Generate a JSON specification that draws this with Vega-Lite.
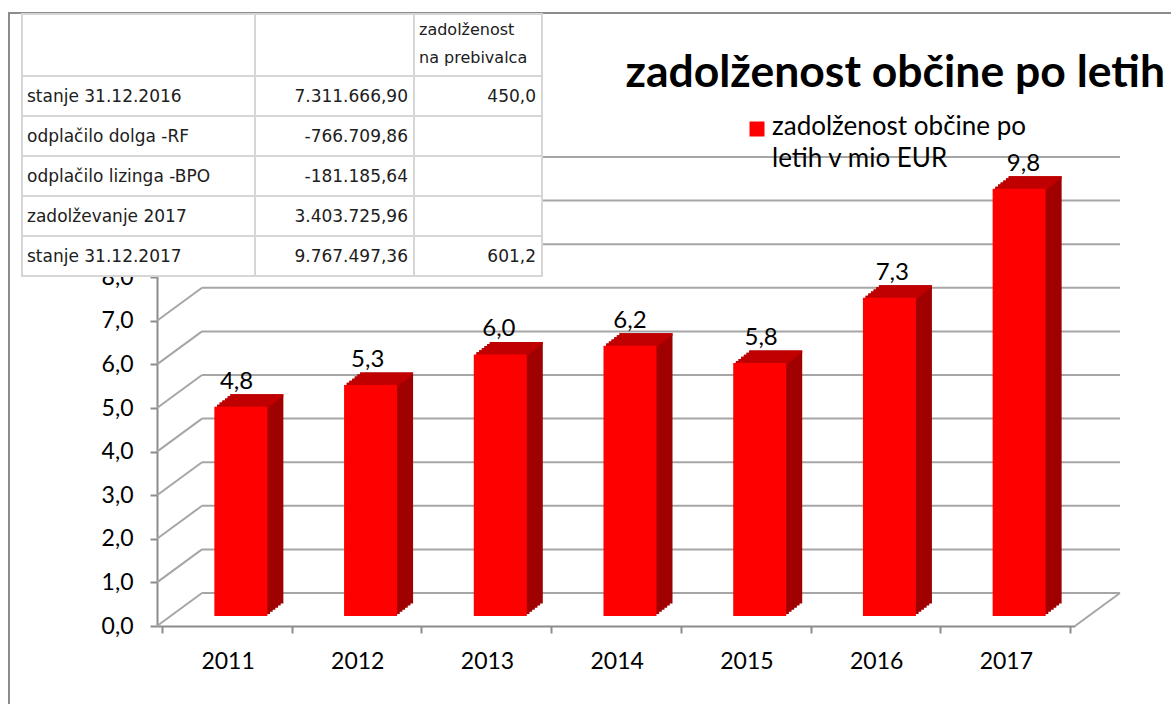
{
  "$schema": "https://vega.github.io/schema/vega-lite/v6.json",
  "width": 1164,
  "height": 693,
  "autosize": "none",
  "padding": {"left": 9, "top": 13, "right": 0, "bottom": 0},
  "background": "white",
  "config": {
    "view": {"stroke": "#8c8c8c", "strokeWidth": 2},
    "font": "Lato"
  },
  "title": {
    "text": "zadolženost občine po letih",
    "anchor": "end",
    "frame": "group",
    "offset": -75,
    "dx": -8,
    "dy": 43,
    "baseline": "alphabetic",
    "font": "Lato",
    "fontSize": 44.5,
    "fontWeight": "bold",
    "color": "#000000"
  },
  "datasets": {
    "bars": [
      {"year": 2011, "value": 4.8, "series": "zadolženost občine po letih v mio EUR"},
      {"year": 2012, "value": 5.3, "series": "zadolženost občine po letih v mio EUR"},
      {"year": 2013, "value": 6.0, "series": "zadolženost občine po letih v mio EUR"},
      {"year": 2014, "value": 6.2, "series": "zadolženost občine po letih v mio EUR"},
      {"year": 2015, "value": 5.8, "series": "zadolženost občine po letih v mio EUR"},
      {"year": 2016, "value": 7.3, "series": "zadolženost občine po letih v mio EUR"},
      {"year": 2017, "value": 9.8, "series": "zadolženost občine po letih v mio EUR"}
    ],
    "grid": [
      {"v": 0}, {"v": 1}, {"v": 2}, {"v": 3}, {"v": 4}, {"v": 5},
      {"v": 6}, {"v": 7}, {"v": 8}, {"v": 9}, {"v": 10}
    ],
    "table": [
      {"row": 0, "col": 0, "text": ""},
      {"row": 0, "col": 1, "text": ""},
      {"row": 0, "col": 2, "text": "zadolženost\nna prebivalca"},
      {"row": 1, "col": 0, "text": "stanje 31.12.2016"},
      {"row": 1, "col": 1, "text": "7.311.666,90"},
      {"row": 1, "col": 2, "text": "450,0"},
      {"row": 2, "col": 0, "text": "odplačilo dolga -RF"},
      {"row": 2, "col": 1, "text": "-766.709,86"},
      {"row": 2, "col": 2, "text": ""},
      {"row": 3, "col": 0, "text": "odplačilo lizinga -BPO"},
      {"row": 3, "col": 1, "text": "-181.185,64"},
      {"row": 3, "col": 2, "text": ""},
      {"row": 4, "col": 0, "text": "zadolževanje 2017"},
      {"row": 4, "col": 1, "text": "3.403.725,96"},
      {"row": 4, "col": 2, "text": ""},
      {"row": 5, "col": 0, "text": "stanje 31.12.2017"},
      {"row": 5, "col": 1, "text": "9.767.497,36"},
      {"row": 5, "col": 2, "text": "601,2"}
    ]
  },
  "resolve": {
    "scale": {"x": "independent", "y": "independent"},
    "axis": {"x": "independent", "y": "independent"}
  },
  "layer": [
    {
      "data": {"name": "grid"},
      "mark": {"type": "rule", "color": "#a6a6a6", "strokeWidth": 2, "xOffset": 45, "x2Offset": 45, "yOffset": -33},
      "encoding": {
        "x": {"datum": 2010.5, "type": "quantitative", "scale": {"domain": [2010.5, 2017.5], "range": [148, 1066], "nice": false, "zero": false}, "axis": null},
        "x2": {"datum": 2017.5},
        "y": {"field": "v", "type": "quantitative", "scale": {"domain": [0, 10], "range": [613, 177], "nice": false, "zero": false}, "axis": null}
      }
    },
    {
      "data": {"name": "grid"},
      "mark": {"type": "rule", "color": "#a6a6a6", "strokeWidth": 2, "x2Offset": 45, "y2Offset": -33},
      "encoding": {
        "x": {"datum": 2010.5, "type": "quantitative", "scale": {"domain": [2010.5, 2017.5], "range": [148, 1066], "nice": false, "zero": false}, "axis": null},
        "x2": {"datum": 2010.5},
        "y": {"field": "v", "type": "quantitative", "scale": {"domain": [0, 10], "range": [613, 177], "nice": false, "zero": false}, "axis": null},
        "y2": {"field": "v"}
      }
    },
    {
      "data": {"name": "grid"},
      "transform": [{"filter": "datum.v == 0"}],
      "mark": {"type": "rule", "color": "#a6a6a6", "strokeWidth": 2, "x2Offset": 45, "y2Offset": -33},
      "encoding": {
        "x": {"datum": 2017.5, "type": "quantitative", "scale": {"domain": [2010.5, 2017.5], "range": [148, 1066], "nice": false, "zero": false}, "axis": null},
        "x2": {"datum": 2017.5},
        "y": {"field": "v", "type": "quantitative", "scale": {"domain": [0, 10], "range": [613, 177], "nice": false, "zero": false}, "axis": null},
        "y2": {"field": "v"}
      }
    },
    {
      "data": {"name": "bars"},
      "mark": {"type": "bar", "orient": "vertical", "color": "#a00000", "width": 53, "xOffset": 30, "yOffset": -22.5, "y2Offset": -22.5},
      "encoding": {
        "x": {"field": "year", "type": "quantitative", "scale": {"domain": [2010.5, 2017.5], "range": [148, 1066], "nice": false, "zero": false}, "axis": null},
        "y": {"field": "value", "type": "quantitative", "stack": null, "scale": {"domain": [0, 10], "range": [613, 177], "nice": false, "zero": false}, "axis": null},
        "y2": {"datum": 0}
      }
    },
    {
      "data": {"name": "bars"},
      "mark": {"type": "bar", "orient": "vertical", "color": "#a00000", "width": 53, "xOffset": 27.33, "yOffset": -20.42, "y2Offset": -20.42},
      "encoding": {
        "x": {"field": "year", "type": "quantitative", "scale": {"domain": [2010.5, 2017.5], "range": [148, 1066], "nice": false, "zero": false}, "axis": null},
        "y": {"field": "value", "type": "quantitative", "stack": null, "scale": {"domain": [0, 10], "range": [613, 177], "nice": false, "zero": false}, "axis": null},
        "y2": {"datum": 0}
      }
    },
    {
      "data": {"name": "bars"},
      "mark": {"type": "bar", "orient": "vertical", "color": "#a00000", "width": 53, "xOffset": 24.67, "yOffset": -18.33, "y2Offset": -18.33},
      "encoding": {
        "x": {"field": "year", "type": "quantitative", "scale": {"domain": [2010.5, 2017.5], "range": [148, 1066], "nice": false, "zero": false}, "axis": null},
        "y": {"field": "value", "type": "quantitative", "stack": null, "scale": {"domain": [0, 10], "range": [613, 177], "nice": false, "zero": false}, "axis": null},
        "y2": {"datum": 0}
      }
    },
    {
      "data": {"name": "bars"},
      "mark": {"type": "bar", "orient": "vertical", "color": "#a00000", "width": 53, "xOffset": 22, "yOffset": -16.25, "y2Offset": -16.25},
      "encoding": {
        "x": {"field": "year", "type": "quantitative", "scale": {"domain": [2010.5, 2017.5], "range": [148, 1066], "nice": false, "zero": false}, "axis": null},
        "y": {"field": "value", "type": "quantitative", "stack": null, "scale": {"domain": [0, 10], "range": [613, 177], "nice": false, "zero": false}, "axis": null},
        "y2": {"datum": 0}
      }
    },
    {
      "data": {"name": "bars"},
      "mark": {"type": "bar", "orient": "vertical", "color": "#a00000", "width": 53, "xOffset": 19.33, "yOffset": -14.17, "y2Offset": -14.17},
      "encoding": {
        "x": {"field": "year", "type": "quantitative", "scale": {"domain": [2010.5, 2017.5], "range": [148, 1066], "nice": false, "zero": false}, "axis": null},
        "y": {"field": "value", "type": "quantitative", "stack": null, "scale": {"domain": [0, 10], "range": [613, 177], "nice": false, "zero": false}, "axis": null},
        "y2": {"datum": 0}
      }
    },
    {
      "data": {"name": "bars"},
      "mark": {"type": "bar", "orient": "vertical", "color": "#a00000", "width": 53, "xOffset": 16.67, "yOffset": -12.08, "y2Offset": -12.08},
      "encoding": {
        "x": {"field": "year", "type": "quantitative", "scale": {"domain": [2010.5, 2017.5], "range": [148, 1066], "nice": false, "zero": false}, "axis": null},
        "y": {"field": "value", "type": "quantitative", "stack": null, "scale": {"domain": [0, 10], "range": [613, 177], "nice": false, "zero": false}, "axis": null},
        "y2": {"datum": 0}
      }
    },
    {
      "data": {"name": "bars"},
      "mark": {"type": "bar", "orient": "vertical", "color": "#c00000", "width": 53, "xOffset": 16.67, "yOffset": -12.08, "y2Offset": -9.5},
      "encoding": {
        "x": {"field": "year", "type": "quantitative", "scale": {"domain": [2010.5, 2017.5], "range": [148, 1066], "nice": false, "zero": false}, "axis": null},
        "y": {"field": "value", "type": "quantitative", "stack": null, "scale": {"domain": [0, 10], "range": [613, 177], "nice": false, "zero": false}, "axis": null},
        "y2": {"field": "value"}
      }
    },
    {
      "data": {"name": "bars"},
      "mark": {"type": "bar", "orient": "vertical", "color": "#c00000", "width": 53, "xOffset": 19.33, "yOffset": -14.17, "y2Offset": -11.58},
      "encoding": {
        "x": {"field": "year", "type": "quantitative", "scale": {"domain": [2010.5, 2017.5], "range": [148, 1066], "nice": false, "zero": false}, "axis": null},
        "y": {"field": "value", "type": "quantitative", "stack": null, "scale": {"domain": [0, 10], "range": [613, 177], "nice": false, "zero": false}, "axis": null},
        "y2": {"field": "value"}
      }
    },
    {
      "data": {"name": "bars"},
      "mark": {"type": "bar", "orient": "vertical", "color": "#c00000", "width": 53, "xOffset": 22, "yOffset": -16.25, "y2Offset": -13.67},
      "encoding": {
        "x": {"field": "year", "type": "quantitative", "scale": {"domain": [2010.5, 2017.5], "range": [148, 1066], "nice": false, "zero": false}, "axis": null},
        "y": {"field": "value", "type": "quantitative", "stack": null, "scale": {"domain": [0, 10], "range": [613, 177], "nice": false, "zero": false}, "axis": null},
        "y2": {"field": "value"}
      }
    },
    {
      "data": {"name": "bars"},
      "mark": {"type": "bar", "orient": "vertical", "color": "#c00000", "width": 53, "xOffset": 24.67, "yOffset": -18.33, "y2Offset": -15.75},
      "encoding": {
        "x": {"field": "year", "type": "quantitative", "scale": {"domain": [2010.5, 2017.5], "range": [148, 1066], "nice": false, "zero": false}, "axis": null},
        "y": {"field": "value", "type": "quantitative", "stack": null, "scale": {"domain": [0, 10], "range": [613, 177], "nice": false, "zero": false}, "axis": null},
        "y2": {"field": "value"}
      }
    },
    {
      "data": {"name": "bars"},
      "mark": {"type": "bar", "orient": "vertical", "color": "#c00000", "width": 53, "xOffset": 27.33, "yOffset": -20.42, "y2Offset": -17.83},
      "encoding": {
        "x": {"field": "year", "type": "quantitative", "scale": {"domain": [2010.5, 2017.5], "range": [148, 1066], "nice": false, "zero": false}, "axis": null},
        "y": {"field": "value", "type": "quantitative", "stack": null, "scale": {"domain": [0, 10], "range": [613, 177], "nice": false, "zero": false}, "axis": null},
        "y2": {"field": "value"}
      }
    },
    {
      "data": {"name": "bars"},
      "mark": {"type": "bar", "orient": "vertical", "color": "#c00000", "width": 53, "xOffset": 30, "yOffset": -22.5, "y2Offset": -19.92},
      "encoding": {
        "x": {"field": "year", "type": "quantitative", "scale": {"domain": [2010.5, 2017.5], "range": [148, 1066], "nice": false, "zero": false}, "axis": null},
        "y": {"field": "value", "type": "quantitative", "stack": null, "scale": {"domain": [0, 10], "range": [613, 177], "nice": false, "zero": false}, "axis": null},
        "y2": {"field": "value"}
      }
    },
    {
      "data": {"name": "bars"},
      "mark": {"type": "bar", "orient": "vertical", "width": 53, "xOffset": 14, "yOffset": -10, "y2Offset": -10},
      "encoding": {
        "x": {
          "field": "year", "type": "quantitative",
          "scale": {"domain": [2010.5, 2017.5], "range": [148, 1066], "nice": false, "zero": false},
          "axis": {
            "orient": "bottom", "title": null,
            "values": [2010.5, 2011.5, 2012.5, 2013.5, 2014.5, 2015.5, 2016.5, 2017.5],
            "labelExpr": "datum.value < 2017 ? '' + (datum.value + 0.5) : ''",
            "labelOffset": 65.57, "labelFlush": false, "labelOverlap": false, "labelBound": false,
            "grid": false, "offset": -80,
            "domainColor": "#8c8c8c", "domainWidth": 2, "tickColor": "#8c8c8c", "tickWidth": 2, "tickSize": 7,
            "labelFont": "Lato", "labelFontSize": 23, "labelColor": "#000000", "labelPadding": 17
          }
        },
        "y": {
          "field": "value", "type": "quantitative", "stack": null,
          "scale": {"domain": [0, 10], "range": [613, 177], "nice": false, "zero": false},
          "axis": {
            "orient": "left", "title": null,
            "values": [0, 1, 2, 3, 4, 5, 6, 7, 8],
            "labelExpr": "replace(format(datum.value, '.1f'), '.', ',')",
            "grid": false, "offset": -148, "labelOverlap": false, "labelFlush": false, "labelBound": false,
            "domainColor": "#8c8c8c", "domainWidth": 2, "tickColor": "#8c8c8c", "tickWidth": 2, "tickSize": 7,
            "labelFont": "Lato", "labelFontSize": 23, "labelColor": "#000000", "labelPadding": 17
          }
        },
        "y2": {"datum": 0},
        "color": {
          "field": "series", "type": "nominal",
          "scale": {"range": ["#ff0000"]},
          "legend": {
            "title": null, "orient": "none", "legendX": 735, "legendY": 103,
            "padding": 0, "symbolType": "square", "symbolSize": 225, "symbolStrokeWidth": 0,
            "labelFont": "Lato", "labelFontSize": 26, "labelColor": "#000000", "labelOffset": 2,
            "labelLimit": 0, "labelBaseline": "alphabetic",
            "labelExpr": "['zadolženost občine po', 'letih v mio EUR']",
            "encode": {"labels": {"update": {"lineHeight": {"value": 32}, "dy": {"value": 6}}}}
          }
        }
      }
    },
    {
      "data": {"name": "bars"},
      "transform": [{"calculate": "replace(format(datum.value, '.1f'), '.', ',')", "as": "label"}],
      "mark": {"type": "text", "xOffset": 14, "yOffset": -28, "baseline": "alphabetic", "align": "center", "font": "Lato", "fontSize": 24, "color": "#000000"},
      "encoding": {
        "x": {"field": "year", "type": "quantitative", "scale": {"domain": [2010.5, 2017.5], "range": [148, 1066], "nice": false, "zero": false}, "axis": null},
        "y": {"field": "value", "type": "quantitative", "scale": {"domain": [0, 10], "range": [613, 177], "nice": false, "zero": false}, "axis": null},
        "text": {"field": "label"}
      }
    },
    {
      "data": {"name": "table"},
      "transform": [
        {"calculate": "datum.col + 1", "as": "colEnd"},
        {"calculate": "datum.row + 1", "as": "rowEnd"}
      ],
      "mark": {"type": "rect", "fill": "#ffffff", "stroke": "#d6d6d6", "strokeWidth": 2},
      "encoding": {
        "x": {"field": "col", "type": "quantitative", "scale": {"domain": [0, 1, 2, 3], "range": [13, 246, 405, 533], "nice": false, "zero": false}, "axis": null},
        "x2": {"field": "colEnd"},
        "y": {"field": "row", "type": "quantitative", "scale": {"domain": [0, 1, 6], "range": [1, 63, 263], "nice": false, "zero": false}, "axis": null},
        "y2": {"field": "rowEnd"}
      }
    },
    {
      "data": {"name": "table"},
      "transform": [{"filter": "datum.col == 0 && datum.row >= 1"}],
      "mark": {"type": "text", "align": "left", "baseline": "alphabetic", "xOffset": 5, "yOffset": 26, "font": "DejaVu Sans", "fontSize": 17, "color": "#202020"},
      "encoding": {
        "x": {"field": "col", "type": "quantitative", "scale": {"domain": [0, 1, 2, 3], "range": [13, 246, 405, 533], "nice": false, "zero": false}, "axis": null},
        "y": {"field": "row", "type": "quantitative", "scale": {"domain": [0, 1, 6], "range": [1, 63, 263], "nice": false, "zero": false}, "axis": null},
        "text": {"field": "text"}
      }
    },
    {
      "data": {"name": "table"},
      "transform": [
        {"filter": "datum.col >= 1 && datum.row >= 1"},
        {"calculate": "datum.col + 1", "as": "colEnd"}
      ],
      "mark": {"type": "text", "align": "right", "baseline": "alphabetic", "xOffset": -6, "yOffset": 26, "font": "DejaVu Sans", "fontSize": 17, "color": "#202020"},
      "encoding": {
        "x": {"field": "colEnd", "type": "quantitative", "scale": {"domain": [0, 1, 2, 3], "range": [13, 246, 405, 533], "nice": false, "zero": false}, "axis": null},
        "y": {"field": "row", "type": "quantitative", "scale": {"domain": [0, 1, 6], "range": [1, 63, 263], "nice": false, "zero": false}, "axis": null},
        "text": {"field": "text"}
      }
    },
    {
      "data": {"name": "table"},
      "transform": [{"filter": "datum.row == 0"}],
      "mark": {"type": "text", "align": "left", "baseline": "alphabetic", "xOffset": 5, "yOffset": 21, "lineBreak": "\n", "lineHeight": 28, "font": "DejaVu Sans", "fontSize": 16, "color": "#202020"},
      "encoding": {
        "x": {"field": "col", "type": "quantitative", "scale": {"domain": [0, 1, 2, 3], "range": [13, 246, 405, 533], "nice": false, "zero": false}, "axis": null},
        "y": {"field": "row", "type": "quantitative", "scale": {"domain": [0, 1, 6], "range": [1, 63, 263], "nice": false, "zero": false}, "axis": null},
        "text": {"field": "text"}
      }
    }
  ]
}
